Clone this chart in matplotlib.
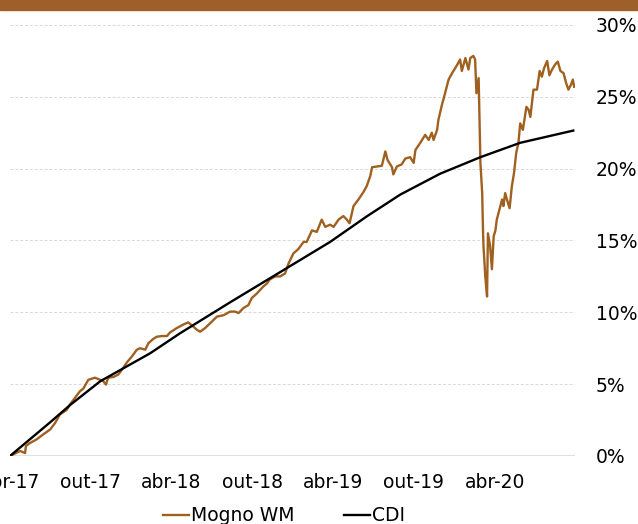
import pandas as pd
import matplotlib.pyplot as plt
from matplotlib.ticker import MultipleLocator, FuncFormatter
from matplotlib.patches import Rectangle

plt.rcParams['font.family'] = ['DejaVu Sans']

# Mogno WM cumulative return (%)
mogno_dates = [
    '2017-04-01', '2017-04-24', '2017-05-05', '2017-05-07', '2017-05-16', '2017-05-31',
    '2017-06-15', '2017-07-01', '2017-07-12', '2017-07-23', '2017-08-07', '2017-08-15',
    '2017-08-26', '2017-09-06', '2017-09-14', '2017-09-25', '2017-10-10', '2017-10-22',
    '2017-10-29', '2017-11-04', '2017-11-09', '2017-11-21', '2017-12-02', '2017-12-10',
    '2017-12-21', '2018-01-01', '2018-01-13', '2018-01-20', '2018-02-01', '2018-02-08',
    '2018-02-19', '2018-02-27', '2018-03-10', '2018-03-22', '2018-03-29', '2018-04-13',
    '2018-04-28', '2018-05-09', '2018-05-21', '2018-05-28', '2018-06-05', '2018-06-16',
    '2018-06-28', '2018-07-13', '2018-07-28', '2018-08-12', '2018-08-23', '2018-08-31',
    '2018-09-11', '2018-09-22', '2018-09-30', '2018-10-11', '2018-10-26', '2018-11-03',
    '2018-11-10', '2018-11-22', '2018-12-03', '2018-12-14', '2018-12-22', '2019-01-02',
    '2019-01-13', '2019-01-25', '2019-02-01', '2019-02-13', '2019-02-24', '2019-03-07',
    '2019-03-15', '2019-03-26', '2019-04-03', '2019-04-14', '2019-04-25', '2019-05-03',
    '2019-05-09', '2019-05-18', '2019-05-29', '2019-06-10', '2019-06-17', '2019-06-25',
    '2019-06-29', '2019-07-10', '2019-07-21', '2019-07-29', '2019-08-03', '2019-08-13',
    '2019-08-16', '2019-08-24', '2019-09-04', '2019-09-12', '2019-09-23', '2019-10-01',
    '2019-10-05', '2019-10-16', '2019-10-27', '2019-11-04', '2019-11-11', '2019-11-15',
    '2019-11-23', '2019-11-26', '2019-12-04', '2019-12-11', '2019-12-19', '2019-12-27',
    '2020-01-07', '2020-01-14', '2020-01-18', '2020-01-26', '2020-02-02', '2020-02-06',
    '2020-02-13', '2020-02-17', '2020-02-20', '2020-02-25', '2020-02-29', '2020-03-04',
    '2020-03-06', '2020-03-07', '2020-03-11', '2020-03-15', '2020-03-17', '2020-03-22',
    '2020-03-26', '2020-03-30', '2020-04-03', '2020-04-06', '2020-04-12', '2020-04-18',
    '2020-04-21', '2020-04-25', '2020-04-29', '2020-05-05', '2020-05-10', '2020-05-15',
    '2020-05-20', '2020-05-25', '2020-05-29', '2020-06-04', '2020-06-12', '2020-06-17',
    '2020-06-21', '2020-06-28', '2020-07-06', '2020-07-12', '2020-07-17', '2020-07-22',
    '2020-07-29', '2020-08-03', '2020-08-09', '2020-08-16', '2020-08-22', '2020-08-28',
    '2020-09-04', '2020-09-10', '2020-09-15', '2020-09-21', '2020-09-25', '2020-09-28',
]
mogno_values = [
    0.0, 0.35, 0.2, 0.7, 0.9, 1.15,
    1.5, 1.85, 2.3, 2.9, 3.2, 3.6,
    4.05, 4.5, 4.7, 5.3, 5.45, 5.3,
    5.2, 4.97, 5.45, 5.5, 5.67, 6.0,
    6.5, 6.9, 7.4, 7.5, 7.4, 7.85,
    8.15, 8.3, 8.35, 8.35, 8.6, 8.9,
    9.15, 9.3, 9.0, 8.8, 8.65, 8.9,
    9.25, 9.7, 9.8, 10.05, 10.05, 9.95,
    10.3, 10.5, 11.0, 11.3, 11.8, 12.0,
    12.3, 12.5, 12.5, 12.7, 13.4, 14.1,
    14.4, 14.9, 14.9, 15.7, 15.6, 16.45,
    15.95, 16.1, 15.95, 16.45, 16.7, 16.45,
    16.2, 17.4, 17.85, 18.4, 18.8, 19.5,
    20.1, 20.15, 20.2, 21.2, 20.6, 20.1,
    19.6, 20.15, 20.3, 20.7, 20.8, 20.4,
    21.3, 21.8, 22.35, 22.0, 22.5, 22.0,
    22.7, 23.4, 24.45, 25.25, 26.2, 26.65,
    27.2, 27.6, 26.8, 27.7, 26.9, 27.7,
    27.85, 27.6, 25.25, 26.3, 20.4, 18.3,
    15.5, 14.6, 12.5, 11.1, 15.5, 14.6,
    13.0, 15.3, 15.7, 16.45, 17.15, 17.85,
    17.4, 18.3, 17.85, 17.25, 18.75, 19.7,
    21.1, 21.8, 23.15, 22.7, 24.3, 24.1,
    23.6, 25.5, 25.5, 26.8, 26.4, 27.0,
    27.5, 26.5, 26.9, 27.25, 27.45, 26.8,
    26.65, 25.95, 25.5, 25.85, 26.2, 25.7,
]

# CDI cumulative return (%)
cdi_dates = [
    '2017-04-01', '2017-07-01', '2017-08-15', '2017-10-22', '2018-02-12', '2018-04-21',
    '2018-08-12', '2018-11-17', '2019-03-26', '2019-06-18', '2019-09-01', '2019-11-30',
    '2020-02-29', '2020-05-29', '2020-09-26',
]
cdi_values = [
    0.0, 2.35, 3.55, 5.2, 7.15, 8.55,
    10.7, 12.5, 14.9, 16.7, 18.2, 19.65,
    20.8, 21.8, 22.65,
]

tick_dates = ['2017-04-01', '2017-10-01', '2018-04-01', '2018-10-01',
              '2019-04-01', '2019-10-01', '2020-04-01']
tick_labels = ['abr-17', 'out-17', 'abr-18', 'out-18', 'abr-19', 'out-19', 'abr-20']

brown = '#A0601F'

fig = plt.figure(figsize=(6.38, 5.24), dpi=100)
ax = fig.add_axes([0.0157, 0.1298, 0.8856, 0.8225])

# brown band across the top
fig.patches.append(Rectangle((0, 0.981), 1, 0.019, transform=fig.transFigure,
                             color='#9E5F2B', zorder=0))

ax.plot(pd.to_datetime(mogno_dates), mogno_values, color=brown, lw=1.7, label='Mogno WM', zorder=3)
ax.plot(pd.to_datetime(cdi_dates), cdi_values, color='black', lw=1.7, label='CDI', zorder=4)

ax.set_xlim(pd.Timestamp('2017-04-01'), pd.Timestamp('2020-09-30'))
ax.set_ylim(0, 30)

ax.yaxis.tick_right()
ax.yaxis.set_major_locator(MultipleLocator(5))
ax.yaxis.set_major_formatter(FuncFormatter(lambda v, p: f'{v:.0f}%'))
ax.grid(axis='y', color='#d9d9d9', linestyle=(0, (3, 2)), lw=0.7)
ax.axhline(0, color='#e0e0e0', lw=1.5, zorder=1)

ax.set_xticks(pd.to_datetime(tick_dates))
ax.set_xticklabels(tick_labels)

ax.tick_params(axis='both', length=0, labelsize=13.5, colors='black')
ax.tick_params(axis='y', pad=15)
ax.tick_params(axis='x', pad=12)

for s in ax.spines.values():
    s.set_visible(False)

fig.legend(loc='lower center', bbox_to_anchor=(0.445, -0.035), ncol=2, frameon=False,
           fontsize=13.5, handlelength=1.4, handletextpad=0.1, columnspacing=2.6)

plt.savefig('out.png', dpi=100)
